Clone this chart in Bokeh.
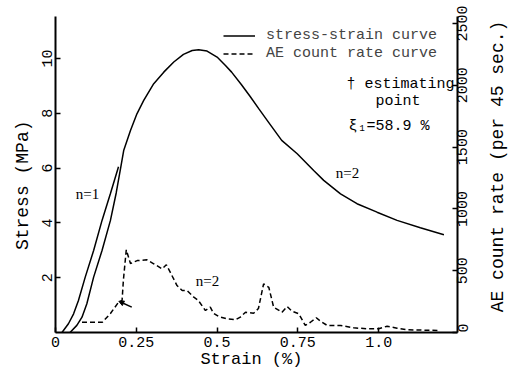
import math
from bokeh.plotting import figure
from bokeh.layouts import row
from bokeh.models import (Range1d, LinearAxis, Legend, LegendItem, Label,
                          Arrow, NormalHead, FixedTicker)
from bokeh.embed import file_html
from bokeh.resources import INLINE

# ---- data ----
strain_n1 = [0.020, 0.040, 0.056, 0.071, 0.092, 0.118, 0.144, 0.170, 0.195]
stress_n1 = [0.0, 0.32, 0.68, 1.17, 2.02, 2.99, 4.09, 5.07, 6.05]

strain_n2 = [0.045, 0.066, 0.082, 0.097, 0.118, 0.144, 0.170, 0.188, 0.203,
             0.211, 0.232, 0.252, 0.273, 0.304, 0.335, 0.366, 0.396, 0.423,
             0.443, 0.469, 0.500, 0.526, 0.545, 0.575, 0.603, 0.630, 0.655,
             0.700, 0.748, 0.799, 0.830, 0.882, 0.933, 0.995, 1.057, 1.129,
             1.202]
stress_n2 = [0.0, 0.26, 0.56, 1.05, 2.02, 2.99, 4.09, 5.10, 6.10,
             6.64, 7.37, 7.98, 8.47, 9.08, 9.50, 9.87, 10.15, 10.29,
             10.32, 10.27, 10.05, 9.74, 9.50, 9.05, 8.60, 8.15, 7.74,
             7.01, 6.52, 5.91, 5.55, 5.06, 4.70, 4.39, 4.09, 3.82,
             3.57]

strain_ae = [0.082, 0.145, 0.170, 0.195, 0.206, 0.210, 0.219, 0.232, 0.253,
             0.283, 0.304, 0.330, 0.343, 0.355, 0.376, 0.392, 0.407, 0.428,
             0.442, 0.464, 0.479, 0.489, 0.505, 0.531, 0.557, 0.572, 0.588,
             0.613, 0.628, 0.644, 0.660, 0.670, 0.675, 0.701, 0.717, 0.732,
             0.753, 0.773, 0.789, 0.807, 0.820, 0.841, 0.882, 0.923, 0.964,
             1.000, 1.026, 1.057, 1.088, 1.190]
ae_count = [83, 83, 154, 245, 259, 421, 669, 558, 582,
            588, 556, 515, 548, 488, 380, 340, 340, 286,
            259, 178, 205, 156, 129, 111, 103, 124, 164,
            156, 194, 394, 366, 259, 205, 164, 210, 172,
            151, 57, 83, 119, 91, 57, 57, 38, 30,
            30, 51, 35, 22, 16]

est_strain = 0.196
est_ae = 253

x_ticks = [0, 0.25, 0.5, 0.75, 1.0]
x_tick_labels = ["0", "0.25", "0.5", "0.75", "1.0"]
stress_ticks = [2, 4, 6, 8, 10]
ae_ticks = [0, 500, 1000, 1500, 2000, 2500]
ae_tick_labels = ["0", "500", "1000", "1500", "2000", "2500"]

MONO = "Liberation Mono"
SERIF = "Liberation Serif"
TICK_PX = 15
FRAME_H = 316
AE_MAX = 2557

p = figure(width=486, height=374, output_backend="svg", toolbar_location=None,
           title=None,
           x_range=Range1d(0, 1.244), y_range=Range1d(0, 11.53),
           min_border_left=55, min_border_right=29, min_border_top=16,
           min_border_bottom=42, outline_line_color=None)
p.extra_y_ranges = {"ae": Range1d(0, AE_MAX)}
p.grid.visible = False

r_n1 = p.line(strain_n1, stress_n1, line_color="black", line_width=1.5)
r_n2 = p.line(strain_n2, stress_n2, line_color="black", line_width=1.5)
r_ae = p.line(strain_ae, ae_count, line_color="black", line_width=1.5,
              line_dash="5 3", y_range_name="ae")

p.add_layout(Arrow(end=NormalHead(size=5, fill_color="black", line_color="black"),
                   x_start=est_strain + 0.04, y_start=est_ae - 48,
                   x_end=est_strain, y_end=est_ae,
                   line_width=1.5, y_range_name="ae"))

# axes
xa = p.xaxis[0]
xa.ticker = FixedTicker(ticks=x_ticks)
xa.major_label_overrides = {t: l for t, l in zip(x_ticks, x_tick_labels)}
xa.axis_label = "Strain  (%)"

ya = p.yaxis[0]
ya.ticker = FixedTicker(ticks=stress_ticks)
ya.axis_label = "Stress   (MPa)"
ya.major_label_orientation = "vertical"

# right axis: tick marks drawn as minor ticks at the real values, labels
# (reading bottom to top) placed so that they centre on those ticks
counts_per_px = AE_MAX / FRAME_H
lab_pos = [max(v - len(s) * 0.6 * TICK_PX / 2 * counts_per_px, 0.0)
           for v, s in zip(ae_ticks, ae_tick_labels)]
ra = LinearAxis(y_range_name="ae",
                ticker=FixedTicker(ticks=lab_pos, minor_ticks=ae_ticks),
                major_label_overrides={t: s for t, s in zip(lab_pos, ae_tick_labels)},
                major_label_orientation=math.pi / 2)
p.add_layout(ra, "right")

for ax in (xa, ya, ra):
    ax.axis_line_width = 2
    ax.axis_line_color = "black"
    ax.major_tick_line_color = "black"
    ax.major_tick_line_width = 1.5
    ax.major_tick_in = 5
    ax.major_tick_out = 0
    ax.minor_tick_line_color = None
    ax.major_label_text_font = MONO
    ax.major_label_text_font_size = f"{TICK_PX}px"
    ax.major_label_text_color = "black"
    ax.axis_label_text_font = MONO
    ax.axis_label_text_font_size = "18px"
    ax.axis_label_text_font_style = "normal"
    ax.axis_label_text_color = "black"

ra.major_tick_line_color = None
ra.minor_tick_line_color = "black"
ra.minor_tick_line_width = 1.5
ra.minor_tick_in = 5
ra.minor_tick_out = 0
ra.major_label_standoff = 5

xa.axis_label_text_font_size = "17px"
xa.major_label_standoff = 4
xa.axis_label_standoff = 0
ya.major_label_standoff = 3
ya.axis_label_standoff = 7

legend = Legend(items=[LegendItem(label="stress-strain curve", renderers=[r_n2]),
                       LegendItem(label="AE count rate curve", renderers=[r_ae])],
                location=(168, 270), background_fill_alpha=0, border_line_color=None,
                padding=0, margin=0, spacing=1, glyph_width=32, glyph_height=17,
                label_height=17, label_standoff=11, label_text_font=MONO,
                label_text_font_size="15px")
p.add_layout(legend)

def lab(fig, text, x, y, font=MONO, size="15px", align="left", angle=0.0):
    fig.add_layout(Label(x=x, y=y, x_units="screen", y_units="screen", text=text,
                         text_font=font, text_font_size=size, text_align=align,
                         angle=angle, text_baseline="middle", text_color="black"))

lab(p, "\u2020 estimating", 291, 248)
lab(p, "point", 320, 231)
lab(p, "\u03be\u2081=58.9 %", 293, 206)
lab(p, "n=1", 32, 139, font=SERIF, align="center")
lab(p, "n=2", 292, 160, font=SERIF, align="center")
lab(p, "n=2", 152, 52, font=SERIF, align="center")

# narrow strip holding the right-hand axis title (reads bottom to top);
# its frame lines up with the main frame
p2 = figure(width=22, height=374, output_backend="svg", toolbar_location=None,
            title=None,
            x_range=Range1d(0, 1), y_range=Range1d(0, 1), min_border=0,
            x_axis_location=None, y_axis_location=None, outline_line_color=None)
p2.grid.visible = False
lab(p2, "AE count rate (per 45 sec.)", 11, 166, size="18px", align="center",
    angle=math.pi / 2)

open("out.html", "w").write(file_html(row(p, p2), INLINE))
